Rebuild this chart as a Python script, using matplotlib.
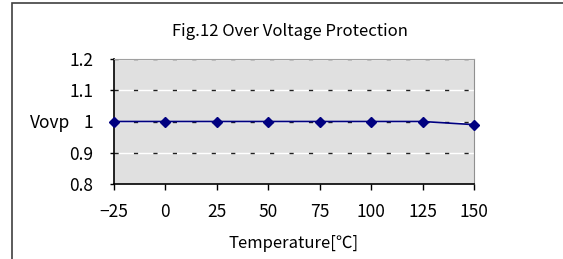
import matplotlib.pyplot as plt
from matplotlib.patches import Rectangle

plt.rcParams['font.family'] = ['Noto Sans CJK KR', 'DejaVu Sans']

temps = [-25, 0, 25, 50, 75, 100, 125, 150]
vovp = [1.0, 1.0, 1.0, 1.0, 1.0, 1.0, 1.0, 0.99]
xtick_labels = ['\u221225', '0', '25', '50', '75', '100', '125', '150']
yticks = [0.8, 0.9, 1.0, 1.1, 1.2]
ytick_labels = ['0.8', '0.9', '1', '1.1', '1.2']

fig = plt.figure(figsize=(5.63, 2.59), dpi=100)
W, H = 563, 259

# outer chart frame (right/bottom edges fall outside the image)
fig.patches.append(Rectangle((12 / W, -0.1), 1.2, (259 - 3) / H + 0.1,
                             transform=fig.transFigure, fill=False,
                             edgecolor='#404040', linewidth=1.2))

ax = fig.add_axes([114 / W, 1 - 184 / H, (474 - 114) / W, (184 - 59) / H])
ax.set_facecolor('#e0e0e0')

# grid: white line with short dark dashes on top
for y in [0.9, 1.0, 1.1, 1.2]:
    ax.axhline(y, color='white', lw=1, zorder=1)
    ax.axhline(y, color='#202020', lw=1, dashes=(3, 11), zorder=1.5)

ax.plot(temps, vovp, color='#000080', lw=1.2, marker='D', markersize=5,
        zorder=3, clip_on=False)

ax.set_xlim(-25, 150)
ax.set_ylim(0.8, 1.2)
ax.set_xticks(temps)
ax.set_xticklabels(xtick_labels)
ax.set_yticks(yticks)
ax.set_yticklabels(ytick_labels)
ax.tick_params(axis='x', length=4, width=1, pad=10, labelsize=12.5, color='black')
ax.tick_params(axis='y', length=3, width=1, pad=12, labelsize=12.5, color='black')

ax.spines['left'].set_color('black')
ax.spines['bottom'].set_color('black')
ax.spines['left'].set_linewidth(1.2)
ax.spines['bottom'].set_linewidth(1.2)
ax.spines['top'].set_color('#a0a0a0')
ax.spines['right'].set_color('#909090')

ax.set_xlabel('Temperature[\u2103]', fontsize=12, labelpad=10)
fig.text(30 / W, 1 - 123 / H, 'Vovp', fontsize=12.5, ha='left', va='center')
fig.text(290 / W, 1 - 31 / H, 'Fig.12 Over Voltage Protection', fontsize=12,
         ha='center', va='center')

fig.savefig('out.png', dpi=100)
